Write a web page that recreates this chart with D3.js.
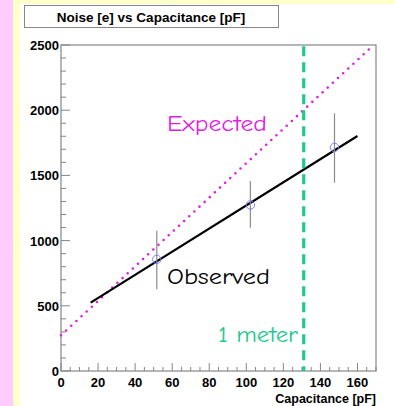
<!DOCTYPE html>
<html><head><meta charset="utf-8">
<script src="https://cdn.jsdelivr.net/npm/d3@7"></script>
<style>body{margin:0;padding:0;overflow:hidden}svg{display:block}</style>
</head><body>
<script>
const title = "Noise [e] vs Capacitance [pF]";
const xLabel = "Capacitance [pF]";
const xTicks = [0, 20, 40, 60, 80, 100, 120, 140, 160];
const yTicks = [0, 500, 1000, 1500, 2000, 2500];
const capacitance = [51.7, 102.2, 147.6];
const noise = [856, 1273, 1715];
const errHigh = [1076, 1457, 1976];
const errLow = [626, 1099, 1444];
const observedX = [16, 160];
const observedY = [524, 1802];
const expectedX = [0, 168.7];
const expectedY = [274, 2500];
const meterX = 131;

const W = 395, H = 406;
const svg = d3.select("body").append("svg").attr("width", W).attr("height", H);
svg.append("rect").attr("width", W).attr("height", H).attr("fill", "#ffffcc");
svg.append("rect").attr("width", 13).attr("height", H).attr("fill", "#ffccff");
svg.append("rect").attr("x", 20).attr("y", 4).attr("width", W - 20).attr("height", H - 4).attr("fill", "#ffffff");

// title box
svg.append("rect").attr("x", 24.5).attr("y", 5.5).attr("width", 254).attr("height", 22)
  .attr("fill", "#fff").attr("stroke", "#888").attr("stroke-width", 1);
svg.append("text").attr("x", 151).attr("y", 22).attr("text-anchor", "middle")
  .attr("font-family", "Liberation Sans, Arial, sans-serif").attr("font-weight", "bold")
  .attr("font-size", 13.5).attr("fill", "#000").text(title);

const L = 61, R = 376, T = 45, B = 371;
const x = d3.scaleLinear().domain([0, 170]).range([L, R]);
const y = d3.scaleLinear().domain([0, 2500]).range([B, T]);

const grey = "#858585";
// frame
svg.append("rect").attr("x", L).attr("y", T).attr("width", R - L).attr("height", B - T)
  .attr("fill", "none").attr("stroke", grey).attr("stroke-width", 1.2);

// y axis ticks
const yMinor = d3.range(0, 2501, 100);
svg.append("g").selectAll("line").data(yMinor).join("line")
  .attr("x1", L).attr("x2", d => L + (d % 500 === 0 ? 9 : 5))
  .attr("y1", d => y(d)).attr("y2", d => y(d)).attr("stroke", grey).attr("stroke-width", 1);
svg.append("g").selectAll("text").data(yTicks).join("text")
  .attr("x", L - 2).attr("y", d => y(d) + 5).attr("text-anchor", "end")
  .attr("font-family", "Liberation Sans, Arial, sans-serif").attr("font-weight", "bold")
  .attr("font-size", 13).text(d => d);

// x axis ticks
const xMinor = d3.range(0, 171, 5);
svg.append("g").selectAll("line").data(xMinor).join("line")
  .attr("y1", B).attr("y2", d => B - (d % 20 === 0 ? 8 : 4))
  .attr("x1", d => x(d)).attr("x2", d => x(d)).attr("stroke", grey).attr("stroke-width", 1);
svg.append("g").selectAll("text").data(xTicks).join("text")
  .attr("x", d => x(d)).attr("y", 387).attr("text-anchor", "middle")
  .attr("font-family", "Liberation Sans, Arial, sans-serif").attr("font-weight", "bold")
  .attr("font-size", 13).text(d => d);
svg.append("text").attr("x", R).attr("y", 403).attr("text-anchor", "end")
  .attr("font-family", "Liberation Sans, Arial, sans-serif").attr("font-weight", "bold")
  .attr("font-size", 12.5).text(xLabel);

const line = d3.line().x(d => x(d[0])).y(d => y(d[1]));

// expected dotted
svg.append("path").datum(d3.zip(expectedX, expectedY)).attr("d", line)
  .attr("fill", "none").attr("stroke", "#e020e0").attr("stroke-width", 2.6)
  .attr("stroke-linecap", "round").attr("stroke-dasharray", "0 7");

// observed
svg.append("path").datum(d3.zip(observedX, observedY)).attr("d", line)
  .attr("fill", "none").attr("stroke", "#000").attr("stroke-width", 2.2);

// 1 meter vertical
svg.append("line").attr("x1", x(meterX)).attr("x2", x(meterX)).attr("y1", y(2490)).attr("y2", B)
  .attr("stroke", "#1ec88e").attr("stroke-width", 3.2).attr("stroke-dasharray", "10 6");

// error bars and points
const pts = capacitance.map((c, i) => ({c, n: noise[i], hi: errHigh[i], lo: errLow[i]}));
svg.append("g").selectAll("line").data(pts).join("line")
  .attr("x1", d => x(d.c)).attr("x2", d => x(d.c)).attr("y1", d => y(d.hi)).attr("y2", d => y(d.lo))
  .attr("stroke", "#8a8a8a").attr("stroke-width", 1.2);
svg.append("g").selectAll("circle").data(pts).join("circle")
  .attr("cx", d => x(d.c)).attr("cy", d => y(d.n)).attr("r", 4.2)
  .attr("fill", "none").attr("stroke", "#7f7fff").attr("stroke-width", 1);

// annotations
const hand = "'Comic Sans MS', 'Comic Neue', 'DejaVu Sans', sans-serif";
svg.append("text").attr("x", 167).attr("y", 131).attr("font-family", hand).attr("font-size", 22)
  .attr("textLength", 100).attr("lengthAdjust", "spacingAndGlyphs")
  .attr("fill", "#e020e0").text("Expected");
svg.append("text").attr("x", 167).attr("y", 284).attr("font-family", hand).attr("font-size", 22)
  .attr("textLength", 103).attr("lengthAdjust", "spacingAndGlyphs")
  .attr("fill", "#000").text("Observed");
svg.append("text").attr("x", 218).attr("y", 342).attr("font-family", hand).attr("font-size", 22)
  .attr("textLength", 80).attr("lengthAdjust", "spacingAndGlyphs")
  .attr("fill", "#1ec88e").text("1 meter");
</script>
</body></html>
